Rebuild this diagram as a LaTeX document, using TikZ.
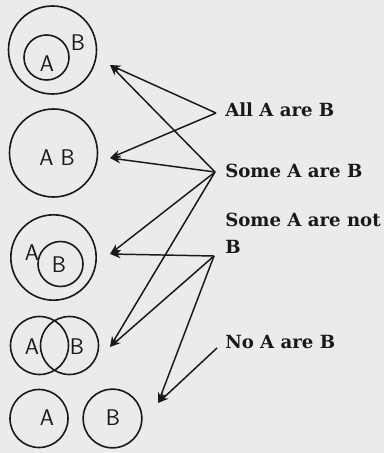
\documentclass[tikz,border=0pt]{standalone}
\usepackage{fontspec}
\usepackage{tikz}
\usetikzlibrary{arrows.meta}
\newfontfamily\stmtfont{DejaVu Serif}
\tikzset{
  ring/.style={draw=black!90,line width=1.2pt,circle,inner sep=0pt},
  lbl/.style={font=\sffamily\fontsize{17}{17}\selectfont,text=black!90,inner sep=0pt},
  stmt/.style={font=\stmtfont\bfseries\fontsize{13.6}{20}\selectfont,text=black!90,inner sep=0pt,anchor=base west,align=left},
  arr/.style={-{Stealth[length=8pt,width=6pt]},draw=black!90,line width=1.1pt},
}

\begin{document}
\begin{tikzpicture}[x=0.75pt,y=-0.75pt]
\fill[black!8] (0,0) rectangle (384,453);
\useasboundingbox (0,0) rectangle (384,453);
% all A are B
\node[ring,minimum size=66pt] (c1_b) at (52.5,50) {};
\node[ring,minimum size=33.75pt] (c1_a) at (46.5,57.5) {};
\node[lbl] (l1_a) at (47,64) {A};
\node[lbl] (l1_b) at (78,43) {B};
% A and B the same
\node[ring,minimum size=66pt] (c2) at (53.5,153) {};
\node[lbl] (l2) at (57,158) {A B};
% B inside A
\node[ring,minimum size=64pt] (c3_a) at (53.5,257.5) {};
\node[ring,minimum size=33.75pt] (c3_b) at (60.5,264) {};
\node[lbl] (l3_a) at (32,253) {A};
\node[lbl] (l3_b) at (59,265) {B};
% overlapping
\node[ring,minimum size=43.5pt] (c4_a) at (39.5,345.5) {};
\node[ring,minimum size=43.5pt] (c4_b) at (69.5,345.5) {};
\node[lbl] (l4_a) at (32,347) {A};
\node[lbl] (l4_b) at (77,347) {B};
% apart
\node[ring,minimum size=43.5pt] (c5_a) at (39,418.5) {};
\node[ring,minimum size=44pt] (c5_b) at (112.5,418.5) {};
\node[lbl] (l5_a) at (47,418) {A};
\node[lbl] (l5_b) at (113,418) {B};
% statements
\node[stmt] (s1) at (225,116) {All A are B};
\node[stmt] (s2) at (225,177) {Some A are B};
\node[stmt] (s3) at (225,253) {Some A are not\\B};
\node[stmt] (s4) at (225,348) {No A are B};
\coordinate (p1) at (216,113);
\coordinate (p2) at (215,172);
\coordinate (p3) at (214,256);
\coordinate (p4) at (217,348);
\coordinate (t1) at (110,65);
\coordinate (t2) at (110,158);
\coordinate (t3) at (110,254);
\coordinate (t4) at (110,347);
\coordinate (t5) at (158,403);
\draw[arr] (p1) -- (t1);
\draw[arr] (p1) -- (t2);
\draw[arr] (p2) -- (t1);
\draw[arr] (p2) -- (t2);
\draw[arr] (p2) -- (t3);
\draw[arr] (p2) -- (t4);
\draw[arr] (p3) -- (t3);
\draw[arr] (p3) -- (t4);
\draw[arr] (p3) -- (t5);
\draw[arr] (p4) -- (t5);
\end{tikzpicture}
\end{document}
